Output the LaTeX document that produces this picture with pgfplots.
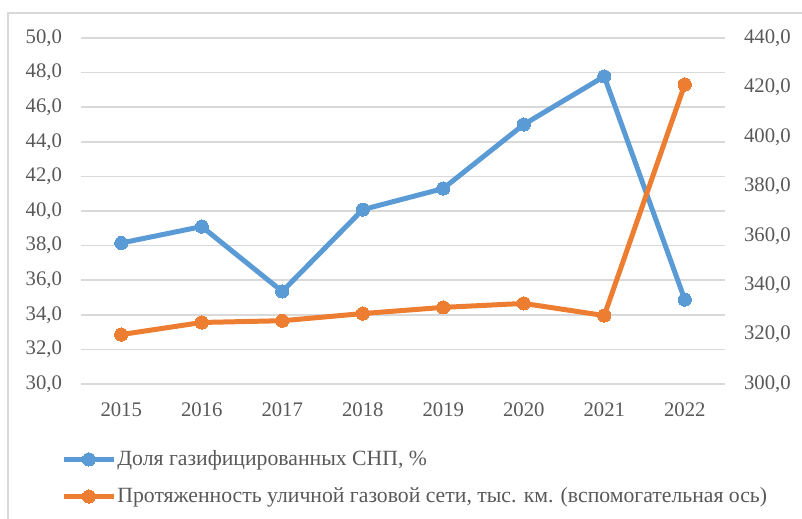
\documentclass[border=0pt]{standalone}
\usepackage{fontspec}
\setmainfont{Liberation Serif}
\usepackage{pgfplots}
\pgfplotsset{compat=1.18}
\definecolor{cblue}{HTML}{5B9BD5}
\definecolor{corange}{HTML}{ED7D31}
\definecolor{ctext}{HTML}{595959}
\definecolor{cgrid}{HTML}{D9D9D9}
\pgfplotsset{
  common/.style={
    at={(0,0)}, anchor=south west,
    scale only axis, width=322bp, height=173bp,
    xmin=-0.5, xmax=7.5,
    axis line style={draw=none}, tick style={draw=none},
    font=\fontsize{10.4}{12.5}\selectfont,
    ticklabel style={text=ctext},
    yticklabel style={/pgf/number format/fixed, /pgf/number format/fixed zerofill, /pgf/number format/precision=1, /pgf/number format/use comma, /pgf/number format/assume math mode=true},
    xticklabel style={/pgf/number format/assume math mode=true},
    clip=false,
  },
  bluestyle/.style={cblue, line width=2.5bp, line join=round, mark=*, mark size=3.3bp, mark options={fill=cblue, draw=cblue, line width=0pt}},
  orangestyle/.style={corange, line width=2.5bp, line join=round, mark=*, mark size=3.3bp, mark options={fill=corange, draw=corange, line width=0pt}},
}
\begin{document}
\begin{tikzpicture}[x=1bp,y=1bp]
\useasboundingbox (-40.5,-67.5) rectangle (360.5,192);
\draw[cgrid, line width=0.6bp] (-36.5,-80) -- (-36.5,185.5) -- (380,185.5);
\begin{axis}[common,
  ymin=30, ymax=50, ytick={30,32,34,36,38,40,42,44,46,48,50},
  xtick={0,...,7}, xticklabels={2015,2016,2017,2018,2019,2020,2021,2022},
  ymajorgrids, grid style={cgrid, line width=0.8bp},
  yticklabel style={xshift=-6bp},
  xticklabel style={yshift=-6bp},
]
\addplot[bluestyle] coordinates {(0,38.15) (1,39.1) (2,35.35) (3,40.08) (4,41.3) (5,45.0) (6,47.78) (7,34.88)};
\end{axis}
\begin{axis}[common,
  ymin=300, ymax=440, ytick={300,320,340,360,380,400,420,440},
  axis y line*=right, hide x axis,
  yticklabel style={xshift=6bp},
  legend cell align=left,
  legend style={draw=none, fill=none, inner sep=0pt, at={(0,0)}, anchor=north west, xshift=-10bp, yshift=-31bp,
    row sep=5.5bp, nodes={inner xsep=0.5bp, text=ctext, font=\fontsize{10.9}{13}\selectfont}},
  legend image code/.code={\draw[mark repeat=2, mark phase=2] plot coordinates {(0bp,0bp)(12.5bp,0bp)(25bp,0bp)};},
]
\addlegendimage{bluestyle}
\addlegendentry{Доля газифицированных СНП, \%}
\addplot[orangestyle] coordinates {(0,320.0) (1,324.9) (2,325.6) (3,328.5) (4,331.0) (5,332.6) (6,327.7) (7,421.2)};
\addlegendentry{Протяженность уличной газовой сети, тыс. км. (вспомогательная ось)}
\end{axis}
\end{tikzpicture}
\end{document}
